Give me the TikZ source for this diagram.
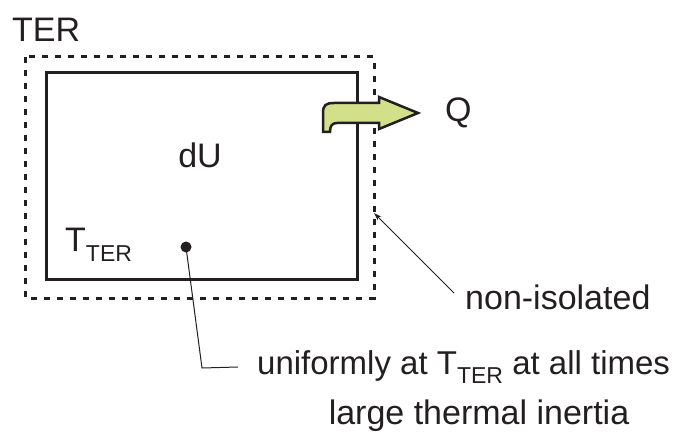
\documentclass[tikz,border=0pt]{standalone}
\usepackage{fontspec}
\setmainfont{Liberation Sans}
\usetikzlibrary{arrows.meta}
\definecolor{heatgreen}{HTML}{D3E08A}
\definecolor{ink}{HTML}{231F20}
\newcommand{\subTER}{\raisebox{-0.3em}{\fontsize{23}{23}\selectfont TER}}
\tikzset{
  lbl/.style={font=\fontsize{34}{38}\selectfont, text=ink, inner sep=0pt},
  boxline/.style={draw=ink, line width=3pt},
  dashline/.style={draw=ink, line width=3pt, dash pattern=on 6pt off 7pt},
  thin/.style={draw=ink, line width=1pt}
}
\begin{document}
\begin{tikzpicture}[x=1pt,y=-1pt]
\useasboundingbox (0,0) rectangle (687,443);
% outer dashed boundary
\draw[dashline] (25,57) rectangle (374,298);
% inner system
\draw[boxline] (46,73) rectangle (357,280);
% heat arrow
\filldraw[fill=heatgreen, draw=ink, line width=2.5pt, line join=miter]
  (323,132) -- (323,113) .. controls (323,105) and (326,103) .. (334,103)
  -- (379,103) -- (379,97) -- (418,113) -- (379,129) -- (379,123)
  -- (337,123) .. controls (332,123) and (330,126) .. (330,132) -- cycle;
% labels
\node[lbl, anchor=west] (ter) at (12,30) {TER};
\node[lbl, anchor=west] (q) at (445,113) {Q};
\node[lbl] (du) at (200,155) {dU};
\node[lbl, anchor=west] (tter) at (65,245) {T\subTER};
\fill[ink] (186,247) circle (5.5pt);
\coordinate (dot) at (186,247);
\coordinate (bend) at (202,368);
\coordinate (edge) at (374,213);
\node[lbl, anchor=west] (noniso) at (465,297) {non-isolated};
\node[lbl, anchor=west, font=\fontsize{33}{38}\selectfont] (unif) at (257,367) {uniformly at T\subTER\ at all times};
\node[lbl] (inertia) at (479,416) {large thermal inertia};
% connectors
\draw[thin] (dot) -- (bend) -- (unif.west -| 238,0);
\draw[thin, -{Stealth[length=8pt,width=5pt]}] (noniso.west) ++(-11,-4) coordinate (nstart) -- (edge);
\end{tikzpicture}
\end{document}
